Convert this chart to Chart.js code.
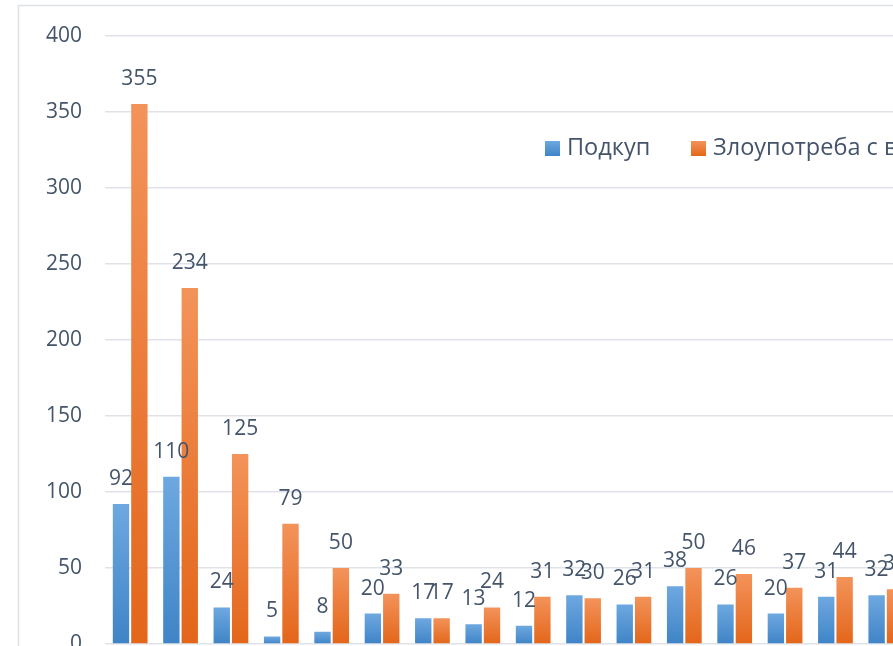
<!DOCTYPE html>
<html>
<head>
<meta charset="utf-8">
<script src="https://cdn.jsdelivr.net/npm/chart.js@4"></script>
<style>
    html, body { margin: 0; padding: 0; background: #fff; overflow: hidden; }
    #wrap { position: absolute; left: 0; top: 0; width: 930px; height: 690px; }
</style>
</head>
<body>
<div id="wrap"><canvas id="chart" width="930" height="690"></canvas></div>
<script>
const categories = ['1', '2', '3', '4', '5', '6', '7', '8', '9', '10', '11', '12', '13', '14', '15', '16'];
const bribery = [92, 110, 24, 5, 8, 20, 17, 13, 12, 32, 26, 38, 26, 20, 31, 32];
const abuse = [355, 234, 125, 79, 50, 33, 17, 24, 31, 30, 31, 50, 46, 37, 44, 36];
const seriesNames = ['Подкуп', 'Злоупотреба с власт'];
const yTicks = [0, 50, 100, 150, 200, 250, 300, 350, 400];

const textColor = '#44546a';
const fontFamily = '"Open Sans", "Noto Sans", sans-serif';

// per-bar vertical gradient, light on top, dark at the base
function barGradient(top, bottom) {
    return (context) => {
        const chart = context.chart;
        const yScale = chart.scales.y;
        if (!yScale || context.raw === undefined) return bottom;
        const y0 = yScale.getPixelForValue(0);
        const y1 = yScale.getPixelForValue(context.raw);
        if (!isFinite(y0) || !isFinite(y1) || y0 === y1) return bottom;
        const g = chart.ctx.createLinearGradient(0, y1, 0, y0);
        g.addColorStop(0, top);
        g.addColorStop(1, bottom);
        return g;
    };
}

const frame = {
    id: 'frame',
    beforeDraw(chart) {
        const ctx = chart.ctx;
        ctx.save();
        ctx.fillStyle = '#fff';
        ctx.fillRect(0, 0, chart.width, chart.height);
        ctx.strokeStyle = '#dde1e6';
        ctx.lineWidth = 1.5;
        ctx.strokeRect(18.5, 5.5, chart.width + 20, chart.height + 20);
        ctx.restore();
    }
};

const valueLabels = {
    id: 'valueLabels',
    afterDatasetsDraw(chart) {
        const ctx = chart.ctx;
        ctx.save();
        ctx.font = '21px ' + fontFamily;
        ctx.fillStyle = textColor;
        ctx.textAlign = 'center';
        ctx.textBaseline = 'middle';
        chart.data.datasets.forEach((ds, i) => {
            chart.getDatasetMeta(i).data.forEach((bar, j) => {
                ctx.fillText(String(ds.data[j]), bar.x, bar.y - 25);
            });
        });
        ctx.restore();
    }
};

const boxLegend = {
    id: 'boxLegend',
    afterDraw(chart) {
        const ctx = chart.ctx;
        const spots = [545, 691];
        ctx.save();
        ctx.font = '23.5px ' + fontFamily;
        ctx.textBaseline = 'middle';
        ctx.textAlign = 'left';
        chart.data.datasets.forEach((ds, i) => {
            const x = spots[i];
            const g = ctx.createLinearGradient(0, 141, 0, 156);
            g.addColorStop(0, ds.legendTop);
            g.addColorStop(1, ds.legendBottom);
            ctx.fillStyle = g;
            ctx.fillRect(x, 141, 15, 15);
            ctx.fillStyle = textColor;
            ctx.fillText(ds.label, x + 22, 148);
        });
        ctx.restore();
    }
};

new Chart(document.getElementById('chart'), {
    type: 'bar',
    data: {
        labels: categories,
        datasets: [{
            label: seriesNames[0],
            data: bribery,
            backgroundColor: barGradient('#6ea8e0', '#3f84c7'),
            legendTop: '#6ea8e0',
            legendBottom: '#3f84c7',
            borderWidth: 0,
            categoryPercentage: 0.73,
            barPercentage: 0.89
        }, {
            label: seriesNames[1],
            data: abuse,
            backgroundColor: barGradient('#f3935a', '#e3661a'),
            legendTop: '#f3935a',
            legendBottom: '#e3661a',
            borderWidth: 0,
            categoryPercentage: 0.73,
            barPercentage: 0.89
        }]
    },
    options: {
        responsive: false,
        animation: false,
        layout: { padding: { left: 18, top: 35, right: 19, bottom: 46 } },
        plugins: {
            legend: { display: false },
            tooltip: { enabled: false }
        },
        scales: {
            x: {
                display: false,
                grid: { display: false }
            },
            y: {
                min: 0,
                max: 400,
                afterFit: (scale) => { scale.width = 87; },
                afterBuildTicks: (scale) => { scale.ticks = yTicks.map(v => ({ value: v })); },
                border: { display: false },
                grid: { color: '#dfe3e9', lineWidth: 1.5, drawTicks: false },
                ticks: {
                    padding: 23,
                    color: textColor,
                    font: { family: fontFamily, size: 21 }
                }
            }
        }
    },
    plugins: [frame, valueLabels, boxLegend]
});
</script>
</body>
</html>
